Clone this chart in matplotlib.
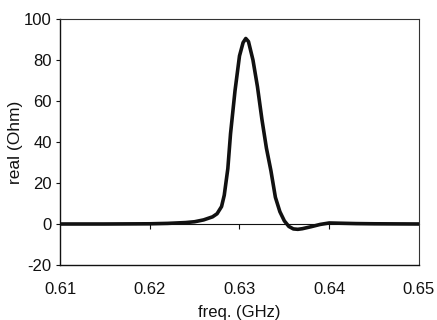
import matplotlib

matplotlib.use("Agg")
import matplotlib.pyplot as plt  # noqa: E402

plt.rcParams["font.family"] = ["Liberation Sans", "DejaVu Sans"]
plt.rcParams["axes.unicode_minus"] = False

INK = "#111111"

# (GHz, Ohm)
freq = [0.610, 0.615, 0.620, 0.622, 0.624, 0.625, 0.626, 0.627, 0.6275,
        0.628, 0.6283, 0.6287, 0.629, 0.6295, 0.630, 0.6304, 0.6307, 0.6310,
        0.6315, 0.632, 0.6325, 0.633, 0.6335, 0.634, 0.6345, 0.635,
        0.6355, 0.636, 0.6365, 0.637, 0.638, 0.639, 0.640, 0.641,
        0.643, 0.645, 0.650]
real = [0.0, 0.0, 0.1, 0.3, 0.7, 1.1, 2.0, 3.5, 5.0,
        8.5, 14.0, 27.0, 44.0, 65.0, 82.0, 88.5, 90.5, 89.0,
        80.0, 67.0, 51.0, 37.0, 26.0, 13.0, 6.0, 1.5,
        -1.2, -2.4, -2.6, -2.3, -1.3, -0.2, 0.5, 0.4,
        0.2, 0.1, 0.0]

x_ticks = [0.61, 0.62, 0.63, 0.64, 0.65]
x_labels = ["0.61", "0.62", "0.63", "0.64", "0.65"]
y_ticks = [-20, 0, 20, 40, 60, 80, 100]

fig = plt.figure(figsize=(4.37, 3.20), dpi=100)
fig.patch.set_facecolor("white")
ax = fig.add_axes([0.1373, 0.1719, 0.8215, 0.7687])

ax.plot(freq, real, color=INK, linewidth=2.6, solid_capstyle="round",
        solid_joinstyle="round", zorder=3)

ax.set_xlim(0.61, 0.65)
ax.set_ylim(-20, 100)

ax.set_yticks(y_ticks)
ax.tick_params(axis="y", direction="out", length=3, width=0.8, pad=3,
               labelsize=12, colors=INK)
ax.set_xticks(x_ticks)
ax.set_xticklabels(x_labels)
ax.tick_params(axis="x", length=0, pad=12, labelsize=12, colors=INK)

# Excel-style category axis crossing at zero
zero_axis = ax.secondary_xaxis(20 / 120)
zero_axis.set_xticks(x_ticks[1:-1])
zero_axis.set_xticklabels([])
zero_axis.tick_params(direction="out", length=3.5, width=0.8, colors=INK)
zero_axis.spines["bottom"].set_linewidth(0.8)
zero_axis.spines["bottom"].set_color(INK)

for side in ["left", "bottom"]:
    ax.spines[side].set_linewidth(1.0)
    ax.spines[side].set_color(INK)
for side in ["top", "right"]:
    ax.spines[side].set_linewidth(0.8)
    ax.spines[side].set_color("#333333")

ax.set_xlabel("freq. (GHz)", fontsize=12, color=INK, labelpad=6)
ax.set_ylabel("real (Ohm)", fontsize=12.5, color=INK, labelpad=1)

fig.savefig("out.png", dpi=100)
plt.close(fig)
